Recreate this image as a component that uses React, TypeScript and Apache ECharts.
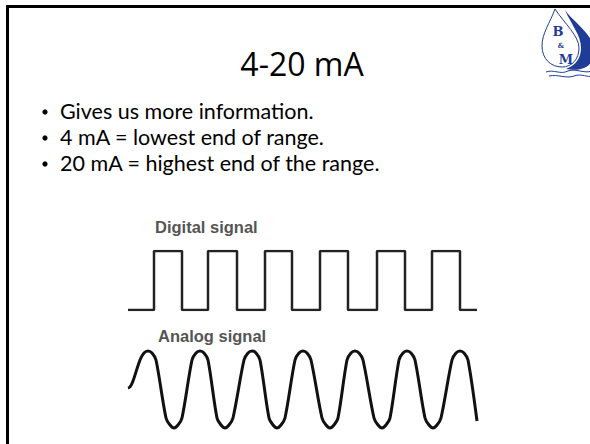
import React, { useEffect, useRef } from "react";
import * as echarts from "echarts";

const title = "4-20 mA";
const bullets = [
  "Gives us more information.",
  "4 mA = lowest end of range.",
  "20 mA = highest end of the range.",
];
const digitalLabel = "Digital signal";
const analogLabel = "Analog signal";

// digital signal: [time, level] step points
const digitalPoints: [number, number][] = [
  [0, 0], [26, 1], [54, 0], [80, 1], [109, 0], [137, 1], [164, 0],
  [192, 1], [220, 0], [249, 1], [277, 0], [304, 1], [332, 0], [349, 0],
];

// analog signal: [time, value]
const analogPoints: [number, number][] = [
  [0, 1], [2, 2], [5, 8], [12, 29], [16, 36], [20, 38], [24, 36], [28, 29],
  [38, -29], [42, -36], [46, -39], [50, -36], [54, -29],
  [64, 29], [68, 36], [72, 38], [76, 36], [80, 29],
  [89, -29], [93, -36], [97, -39], [101, -36], [105, -29],
  [116, 29], [120, 36], [124, 38], [128, 36], [132, 29],
  [141, -29], [145, -36], [149, -39], [153, -36], [157, -29],
  [167, 29], [171, 36], [175, 38], [179, 36], [183, 29],
  [194, -29], [198, -36], [202, -39], [206, -36], [210, -29],
  [219, 29], [223, 36], [227, 38], [231, 36], [235, 29],
  [246, -29], [250, -36], [254, -39], [258, -36], [262, -29],
  [271, 29], [275, 36], [279, 38], [283, 36], [287, 29],
  [297, -29], [301, -36], [305, -39], [309, -36], [313, -29],
  [324, 29], [328, 36], [332, 38], [336, 36], [340, 29],
  [349, -32],
];

const BLUE = "#1f3d96";

let registered = false;
function registerShapes() {
  if (registered) return;
  registered = true;
  echarts.graphic.registerShape(
    "bmDrop",
    echarts.graphic.extendPath(
      "M555,9 C550,23 542,33 542,46 C542,59 551,67 562,67 C572,67 579,59 579,48 C579,36 565,24 555,9 Z",
      {}
    )
  );
  echarts.graphic.registerShape(
    "bmCrescent",
    echarts.graphic.extendPath(
      "M565,10 C575,24 594,34 594,52 C594,66 582,72 566,69 C576,65 581,58 581,48 C581,35 572,26 565,10 Z",
      {}
    )
  );
  echarts.graphic.registerShape(
    "bmPuddle",
    echarts.graphic.extendPath(
      "M546,72 C554,69 560,75 568,71 C576,68 584,74 592,71 M549,76 C558,74 566,79 574,76 C582,73 588,78 592,76",
      {}
    )
  );
}

export default function App() {
  const ref = useRef<HTMLDivElement>(null);
  useEffect(() => {
    if (!ref.current) return;
    registerShapes();
    const chart = echarts.init(ref.current, undefined, { renderer: "svg" });
    const titleFont = "'Open Sans', 'Noto Sans', sans-serif";
    const bodyFont = "Lato, 'Open Sans', sans-serif";
    const bulletY = [111, 137, 163];
    const graphics: any[] = [
      {
        type: "rect",
        shape: { x: 7.5, y: 6.5, width: 620, height: 470 },
        style: { fill: "none", stroke: "#000", lineWidth: 3 },
        silent: true,
      },
      {
        type: "text",
        x: 302,
        y: 63,
        style: {
          text: title,
          fontFamily: titleFont,
          fontSize: 32,
          fill: "#000",
          textAlign: "center",
          textVerticalAlign: "middle",
        },
      },
      { type: "bmDrop", style: { fill: "#fff", stroke: BLUE, lineWidth: 1 } },
      { type: "bmCrescent", style: { fill: BLUE } },
      { type: "bmPuddle", style: { fill: "none", stroke: BLUE, lineWidth: 1 } },
      {
        type: "text", x: 558, y: 31,
        style: { text: "B", fontFamily: "'DejaVu Serif', serif", fontWeight: "bold", fontSize: 13, lineHeight: 13, fill: BLUE, textAlign: "center", textVerticalAlign: "middle" },
      },
      {
        type: "text", x: 561, y: 45,
        style: { text: "&", fontFamily: "'DejaVu Serif', serif", fontWeight: "bold", fontSize: 7, lineHeight: 7, fill: BLUE, textAlign: "center", textVerticalAlign: "middle" },
      },
      {
        type: "text", x: 566, y: 59,
        style: { text: "M", fontFamily: "'DejaVu Serif', serif", fontWeight: "bold", fontSize: 13, lineHeight: 13, fill: BLUE, textAlign: "center", textVerticalAlign: "middle" },
      },
      {
        type: "text", x: 155, y: 227,
        style: { text: digitalLabel, fontFamily: "'Liberation Sans', Arial, sans-serif", fontWeight: "bold", fontSize: 16.5, fill: "#555", textAlign: "left", textVerticalAlign: "middle" },
      },
      {
        type: "text", x: 158, y: 336,
        style: { text: analogLabel, fontFamily: "'Liberation Sans', Arial, sans-serif", fontWeight: "bold", fontSize: 16.5, fill: "#555", textAlign: "left", textVerticalAlign: "middle" },
      },
    ];
    bullets.forEach((b, i) => {
      graphics.push({
        type: "circle",
        shape: { cx: 45, cy: bulletY[i] + 1, r: 2.6 },
        style: { fill: "#000" },
      });
      graphics.push({
        type: "text", x: 60, y: bulletY[i],
        style: { text: b, fontFamily: bodyFont, fontSize: 21.5, lineHeight: 24, fill: "#000", textAlign: "left", textVerticalAlign: "middle" },
      });
    });

    chart.setOption({
      animation: false,
      backgroundColor: "#fff",
      grid: [
        { left: 128, top: 251, width: 349, height: 59 },
        { left: 128, top: 349, width: 349, height: 80 },
      ],
      xAxis: [
        { type: "value", gridIndex: 0, min: 0, max: 349, show: false },
        { type: "value", gridIndex: 1, min: 0, max: 349, show: false },
      ],
      yAxis: [
        { type: "value", gridIndex: 0, min: 0, max: 1, show: false },
        { type: "value", gridIndex: 1, min: -40, max: 40, show: false },
      ],
      series: [
        {
          type: "line",
          xAxisIndex: 0,
          yAxisIndex: 0,
          data: digitalPoints,
          step: "end",
          symbol: "none",
          lineStyle: { color: "#222", width: 2.5 },
        },
        {
          type: "line",
          xAxisIndex: 1,
          yAxisIndex: 1,
          data: analogPoints,
          smooth: 0.3,
          symbol: "none",
          lineStyle: { color: "#111", width: 3 },
        },
      ],
      graphic: graphics,
    });
    return () => chart.dispose();
  }, []);
  return (
    <div
      ref={ref}
      style={{ position: "fixed", left: 0, top: 0, width: 590, height: 444 }}
    />
  );
}
